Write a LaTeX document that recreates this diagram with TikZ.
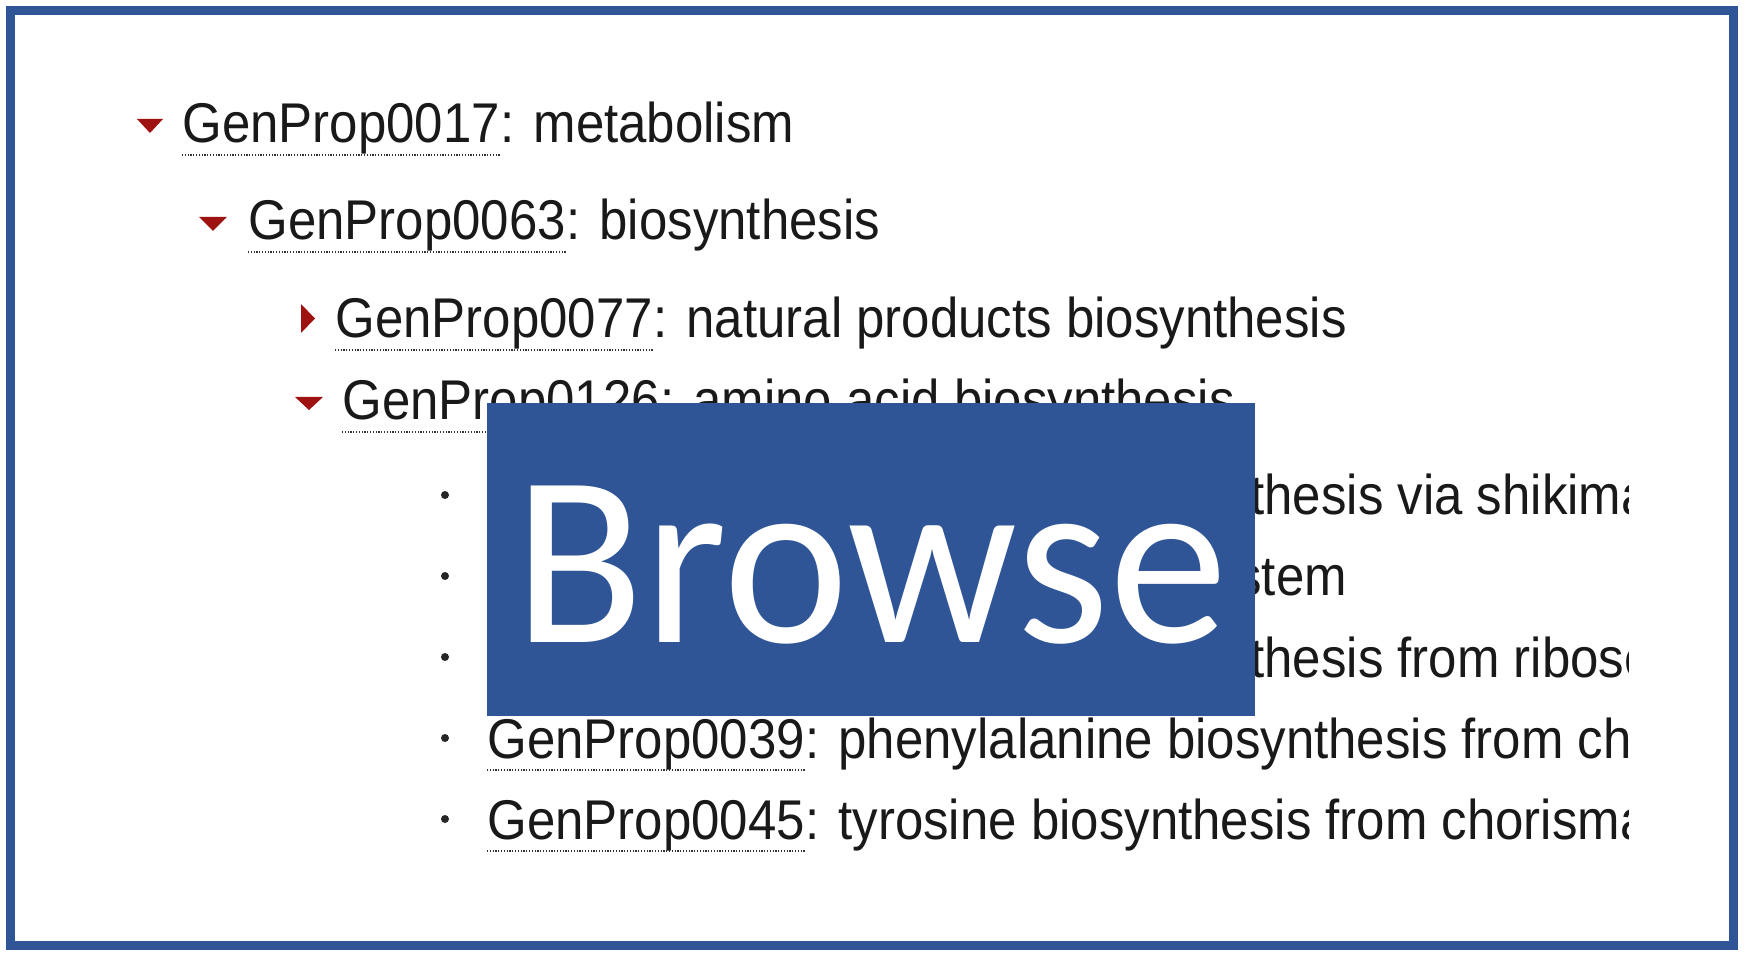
\documentclass[tikz,border=0pt]{standalone}
\usepackage{fontspec}
\setmainfont{Liberation Sans}
\newfontfamily\listfont[FakeStretch=0.91]{Liberation Sans}
\newfontfamily\bannerfont[FakeStretch=0.975]{Carlito}
\usetikzlibrary{positioning}
\definecolor{frameblue}{RGB}{47,85,151}
\definecolor{foldred}{RGB}{158,18,18}
\tikzset{entry/.style = {anchor = base west, inner sep = 0pt, text = black!90,
    font = \listfont\fontsize{28}{34}\selectfont}}
\tikzset{link/.style = {line width = 0.8pt, black!80, dash pattern = on 0.6pt off 0.8pt}}
\tikzset{fold/.style = {fill = foldred}}
\tikzset{dot/.style = {shape = circle, fill = black!85, inner sep = 0pt, minimum size = 4pt}}
\tikzset{banner/.style = {fill = frameblue, text = white, inner sep = 0pt,
    minimum width = 384pt, minimum height = 156.5pt, text height = 82.5pt, text depth = 0pt,
    font = \bannerfont\fontsize{122}{122}\selectfont}}

\begin{document}
\begin{tikzpicture}[x = 0.5pt, y = -0.5pt]
	\fill[white] (0, 0) rectangle (1745, 956);
	\useasboundingbox (0, 0) rectangle (1745, 956);

	% open and closed branches
	\fill[fold] (137, 119) -- (163, 119) -- (150, 133) -- cycle;
	\node[entry] (id17) at (182, 143) {GenProp0017};
	\node[entry] (nm17) at (id17.base east) {: metabolism};
	\draw[link] (id17.south west) -- (id17.south east);

	\fill[fold] (199, 217) -- (227, 217) -- (213, 231) -- cycle;
	\node[entry] (id63) at (248, 240) {GenProp0063};
	\node[entry] (nm63) at (id63.base east) {: biosynthesis};
	\draw[link] (id63.south west) -- (id63.south east);

	\fill[fold] (301, 304) -- (301, 333) -- (315, 318.5) -- cycle;
	\node[entry] (id77) at (335, 338) {GenProp0077};
	\node[entry] (nm77) at (id77.base east) {: natural products biosynthesis};
	\draw[link] (id77.south west) -- (id77.south east);

	\fill[fold] (295, 397) -- (323, 397) -- (309, 410) -- cycle;
	\node[entry] (id126) at (342, 420) {GenProp0126};
	\node[entry] (nm126) at (id126.base east) {: amino acid biosynthesis};
	\draw[link] (id126.south west) -- (id126.south east);

	% leaves
	\node[dot] (b1) at (445, 495) {};
	\node[dot] (b2) at (445, 576) {};
	\node[dot] (b3) at (445, 657) {};
	\node[dot] (b4) at (445, 738) {};
	\node[dot] (b5) at (445, 819) {};

	\begin{scope}
		\clip (0, 0) rectangle (1628, 956);
		\node[entry] (tx1) at (1250, 515) {thesis via shikima};
		\node[entry] (tx2) at (1236, 596) {stem};
		\node[entry] (tx3) at (1250, 677) {thesis from ribose};

		\node[entry] (id39) at (487, 758) {GenProp0039};
		\node[entry] (nm39) at (id39.base east) {: phenylalanine biosynthesis from ch};
		\draw[link] (id39.south west) -- (id39.south east);

		\node[entry] (id45) at (487, 839) {GenProp0045};
		\node[entry] (nm45) at (id45.base east) {: tyrosine biosynthesis from chorisma};
		\draw[link] (id45.south west) -- (id45.south east);
	\end{scope}

	\node[banner] (browse) at (871, 559.5) {Browse};

	\draw[frameblue, line width = 4.5pt] (10.5, 10.5) rectangle (1733.5, 945);
\end{tikzpicture}
\end{document}
